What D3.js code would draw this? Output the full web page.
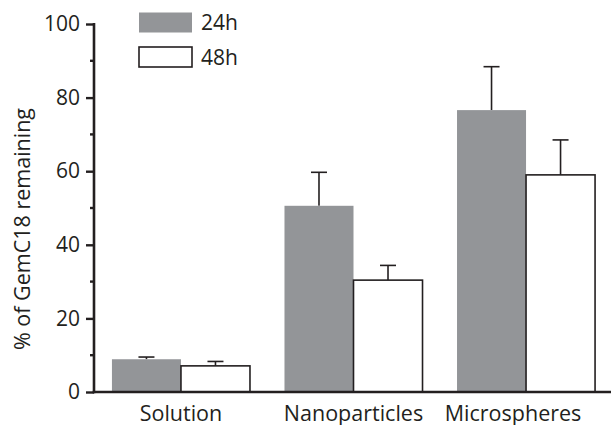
<!DOCTYPE html>
<html>
<head>
<meta charset="utf-8">
<script src="https://cdn.jsdelivr.net/npm/d3@7"></script>
<style>
  body { margin: 0; background: #fff; }
  text { font-family: "Open Sans", sans-serif; fill: #231f20; }
</style>
</head>
<body>
<div id="chart"></div>
<script>
// Data
const categories = ["Solution", "Nanoparticles", "Microspheres"];
const seriesNames = ["24h", "48h"];
const mean24 = [8.9, 50.6, 76.6];
const err24 = [0.6, 9.1, 11.8];
const mean48 = [7.1, 30.4, 59.0];
const err48 = [1.2, 4.0, 9.5];
const yTicks = [0, 20, 40, 60, 80, 100];
const yMinorTicks = [10, 30, 50, 70, 90];

const W = 611, H = 425;
const margin = { top: 24, right: 0, bottom: 33, left: 94 };
const ink = "#231f20";
const grey = "#939598";

const svg = d3.select("#chart").append("svg")
    .attr("width", W)
    .attr("height", H);

// Scales
const x = d3.scaleBand()
    .domain(categories)
    .range([margin.left, 613])
    .paddingInner(0.2)
    .paddingOuter(0.104);
const xSub = d3.scaleBand()
    .domain(seriesNames)
    .range([0, x.bandwidth()]);
const y = d3.scaleLinear()
    .domain([0, 100])
    .range([H - margin.bottom, margin.top]);

// Build rows for bars
const rows = [];
categories.forEach((c, i) => {
    rows.push({ cat: c, s: "24h", v: mean24[i], e: err24[i] });
    rows.push({ cat: c, s: "48h", v: mean48[i], e: err48[i] });
});

// Error bars (drawn first so the bar covers the lower half)
const eb = svg.append("g").attr("stroke", ink).attr("stroke-width", 1.6);
rows.forEach(d => {
    const cx = x(d.cat) + xSub(d.s) + xSub.bandwidth() / 2;
    eb.append("line")
        .attr("x1", cx).attr("x2", cx)
        .attr("y1", y(d.v)).attr("y2", y(d.v + d.e));
    eb.append("line")
        .attr("x1", cx - 8).attr("x2", cx + 8)
        .attr("y1", y(d.v + d.e)).attr("y2", y(d.v + d.e));
});

// Bars
svg.append("g").selectAll("rect")
    .data(rows)
    .enter().append("rect")
    .attr("x", d => x(d.cat) + xSub(d.s))
    .attr("y", d => y(d.v))
    .attr("width", xSub.bandwidth())
    .attr("height", d => y(0) - y(d.v))
    .attr("fill", d => d.s === "24h" ? grey : "#fff")
    .attr("stroke", d => d.s === "24h" ? "none" : ink)
    .attr("stroke-width", 1.6);

// Y axis
const yAxis = svg.append("g")
    .attr("transform", `translate(${margin.left},0)`)
    .call(d3.axisLeft(y).tickValues(yTicks).tickSize(8).tickPadding(6));
yAxis.select(".domain").remove();
yAxis.selectAll(".tick line").attr("stroke", ink).attr("stroke-width", 2.4);
yAxis.selectAll(".tick text")
    .style("font-size", "21px")
    .style("font-family", "Open Sans, sans-serif")
    .attr("fill", ink);
yAxis.selectAll(".minor")
    .data(yMinorTicks)
    .enter().append("line")
    .attr("x1", -4).attr("x2", 0)
    .attr("y1", d => y(d)).attr("y2", d => y(d))
    .attr("stroke", ink).attr("stroke-width", 2.4);
yAxis.append("line")
    .attr("x1", 0).attr("x2", 0)
    .attr("y1", y(100) - 1).attr("y2", y(0) + 1.2)
    .attr("stroke", ink).attr("stroke-width", 2.6);

// X axis
const xAxis = svg.append("g")
    .attr("transform", `translate(0,${y(0)})`)
    .call(d3.axisBottom(x).tickSize(0).tickPadding(0));
xAxis.select(".domain").remove();
xAxis.append("line")
    .attr("x1", margin.left - 1.3).attr("x2", W)
    .attr("y1", 0).attr("y2", 0)
    .attr("stroke", ink).attr("stroke-width", 2.6);
xAxis.selectAll(".tick text")
    .style("font-size", "21.5px")
    .style("font-family", "Open Sans, sans-serif")
    .attr("fill", ink)
    .attr("y", 29)
    .attr("dy", 0)
    .attr("dx", (d, i) => i === 2 ? -13 : 0);

// Y label
svg.append("text")
    .attr("transform", `translate(30,229) rotate(-90)`)
    .attr("text-anchor", "middle")
    .style("font-size", "21.5px")
    .text("% of GemC18 remaining");

// Legend
const legend = svg.append("g");
seriesNames.forEach((s, i) => {
    legend.append("rect")
        .attr("x", 139).attr("y", 12.5 + i * 34.5)
        .attr("width", 53).attr("height", 20)
        .attr("fill", i === 0 ? grey : "#fff")
        .attr("stroke", i === 0 ? "none" : ink)
        .attr("stroke-width", 1.6);
    legend.append("text")
        .attr("x", 201).attr("y", 30 + i * 34.5)
        .style("font-size", "21px")
        .text(s);
});
</script>
</body>
</html>
